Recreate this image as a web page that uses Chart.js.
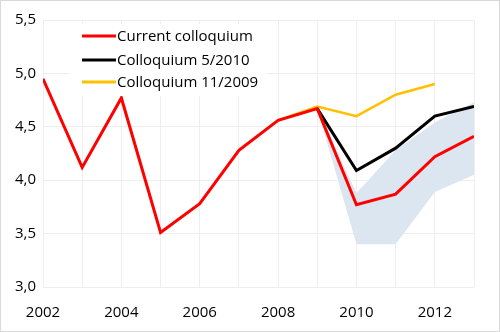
<!DOCTYPE html>
<html>
<head>
<meta charset="utf-8">
<script src="https://cdn.jsdelivr.net/npm/chart.js@4.4.1/dist/chart.umd.min.js"></script>
<style>
  body { margin: 0; background: #fff; }
  #wrap { width: 500px; height: 332px; position: relative; }
</style>
</head>
<body>
<div id="wrap"><canvas id="gdp-chart" width="500" height="332"></canvas></div>
<script>
const years = [2002, 2003, 2004, 2005, 2006, 2007, 2008, 2009, 2010, 2011, 2012, 2013];

// forecasts (null = no value)
const current   = [4.95, 4.12, 4.77, 3.51, 3.78, 4.28, 4.56, 4.67, 3.77, 3.87, 4.22, 4.41];
const may2010   = [null, null, null, null, null, null, null, 4.67, 4.09, 4.30, 4.60, 4.69];
const nov2009   = [null, null, null, null, null, null, 4.56, 4.69, 4.60, 4.80, 4.90, null];
const bandLow   = [null, null, null, null, null, null, null, 4.67, 3.40, 3.40, 3.89, 4.05];
const bandHigh  = [null, null, null, null, null, null, null, 4.67, 3.88, 4.28, 4.54, 4.73];

const seriesLabels = ['Current colloquium', 'Colloquium 5/2010', 'Colloquium 11/2009'];
const yTicks = [3.0, 3.5, 4.0, 4.5, 5.0, 5.5];

const FONT = 'Open Sans';

function points(vals) {
    return years.map((y, i) => ({ x: y, y: vals[i] })).filter(p => p.y !== null);
}

// legend drawn inside the plot, on a white box
const insideLegend = {
    id: 'insideLegend',
    afterDatasetsDraw(chart) {
        const ctx = chart.ctx;
        ctx.save();
        ctx.fillStyle = '#fff';
        ctx.fillRect(70, 24, 196, 72);
        ctx.font = '15px "' + FONT + '"';
        ctx.textBaseline = 'middle';
        const rows = [36, 60, 82];
        for (let i = 0; i < 3; i++) {
            const ds = chart.data.datasets[i];
            ctx.strokeStyle = ds.borderColor;
            ctx.lineWidth = 3;
            ctx.beginPath();
            ctx.moveTo(82, rows[i]);
            ctx.lineTo(116, rows[i]);
            ctx.stroke();
            ctx.fillStyle = '#000';
            ctx.fillText(ds.label, 117, rows[i] + 1);
        }
        ctx.restore();
    },
    afterDraw(chart) {
        const ctx = chart.ctx;
        ctx.save();
        ctx.strokeStyle = '#d9d9d9';
        ctx.lineWidth = 1;
        ctx.strokeRect(0.5, 0.5, chart.width - 1, chart.height - 1);
        ctx.restore();
    }
};

const ctx = document.querySelector('#gdp-chart').getContext('2d');

const gdpChart = new Chart(ctx, {
    type: 'line',
    data: {
        datasets: [
            { label: seriesLabels[0], data: points(current), borderColor: '#ff0000', backgroundColor: '#ff0000', borderWidth: 3, pointRadius: 0, fill: false },
            { label: seriesLabels[1], data: points(may2010), borderColor: '#000000', backgroundColor: '#000000', borderWidth: 3, pointRadius: 0, fill: false },
            { label: seriesLabels[2], data: points(nov2009), borderColor: '#ffc000', backgroundColor: '#ffc000', borderWidth: 2.5, pointRadius: 0, fill: false },
            { label: 'low', data: points(bandLow), borderWidth: 0, borderColor: 'rgba(0,0,0,0)', pointRadius: 0, fill: false },
            { label: 'high', data: points(bandHigh), borderWidth: 0, borderColor: 'rgba(0,0,0,0)', backgroundColor: '#dce6f1', pointRadius: 0, fill: '-1' }
        ]
    },
    options: {
        responsive: false,
        animation: false,
        layout: { padding: { left: 0, top: 20, right: 26, bottom: 0 } },
        plugins: {
            legend: { display: false },
            tooltip: { enabled: false }
        },
        scales: {
            x: {
                type: 'linear',
                min: 2002,
                max: 2013,
                afterBuildTicks: s => { s.ticks = years.map(v => ({ value: v })); },
                afterFit: s => { s.height = 45; },
                grid: { color: '#eeeeee', drawTicks: false },
                border: { display: false },
                ticks: {
                    padding: 17,
                    maxRotation: 0,
                    autoSkip: false,
                    color: '#000',
                    font: { family: FONT, size: 15 },
                    callback: v => (v % 2 === 0 && v < 2013) ? String(v) : ''
                }
            },
            y: {
                min: 3.0,
                max: 5.5,
                afterBuildTicks: s => { s.ticks = yTicks.map(v => ({ value: v })); },
                afterFit: s => { s.width = 43; },
                grid: { color: '#eeeeee', drawTicks: false },
                border: { display: false },
                ticks: {
                    padding: 7,
                    color: '#000',
                    font: { family: FONT, size: 15 },
                    callback: v => v.toFixed(1).replace('.', ',')
                }
            }
        }
    },
    plugins: [insideLegend]
});
</script>
</body>
</html>
